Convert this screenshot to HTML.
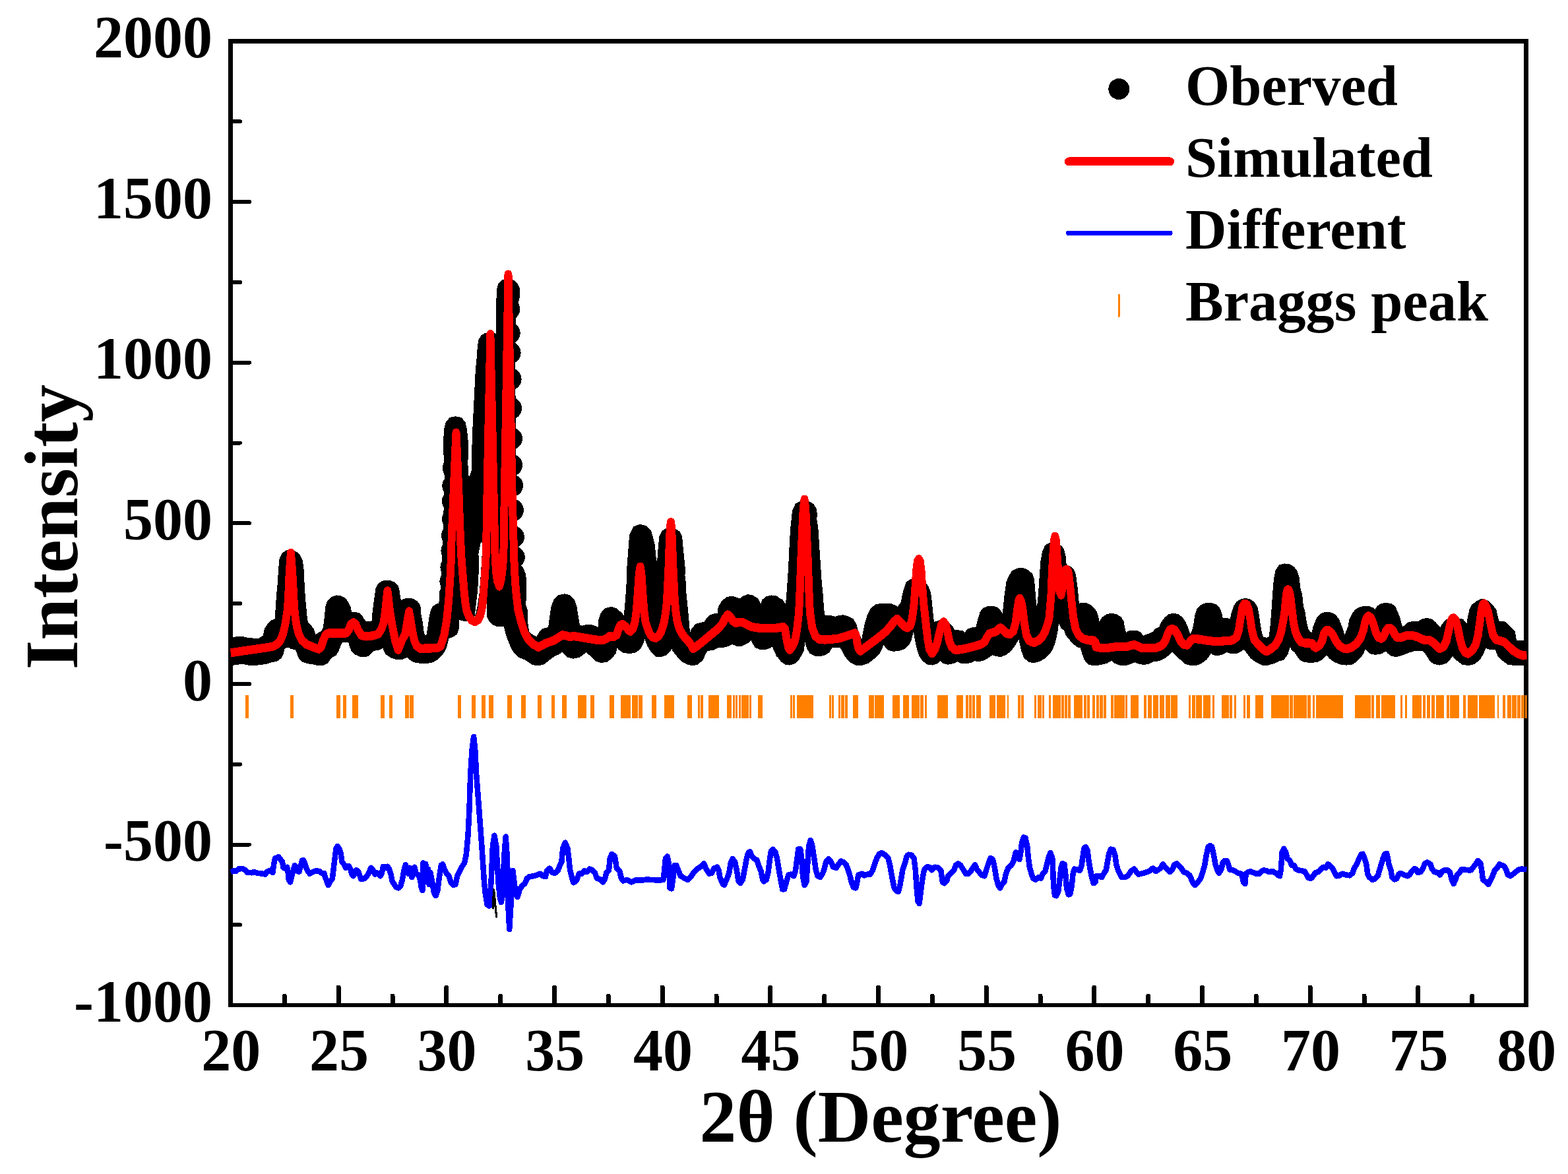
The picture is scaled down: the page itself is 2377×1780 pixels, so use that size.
<!DOCTYPE html>
<html lang="en"><head><meta charset="utf-8"><title>XRD Rietveld refinement</title>
<style>html,body{margin:0;padding:0;background:#fff;}body{width:2377px;height:1780px;overflow:hidden;}svg{display:block;}</style>
</head><body>
<svg width="2377" height="1780" viewBox="0 0 2377 1780" shape-rendering="crispEdges">
<rect width="2377" height="1780" fill="#fff"/>
<path d="M349.5 59V1527M2313.5 59V1527M346 62.5H2317" fill="none" stroke="#000" stroke-width="7"/>
<path d="M346 1524H2317" fill="none" stroke="#000" stroke-width="6"/>
<path d="M431.3 1524v-13.8M513.2 1524v-27.0M595.0 1524v-13.8M676.8 1524v-27.0M758.7 1524v-13.8M840.5 1524v-27.0M922.3 1524v-13.8M1004.2 1524v-27.0M1086.0 1524v-13.8M1167.8 1524v-27.0M1249.7 1524v-13.8M1331.5 1524v-27.0M1413.3 1524v-13.8M1495.2 1524v-27.0M1577.0 1524v-13.8M1658.8 1524v-27.0M1740.7 1524v-13.8M1822.5 1524v-27.0M1904.3 1524v-13.8M1986.2 1524v-27.0M2068.0 1524v-13.8M2149.8 1524v-27.0M2231.7 1524v-13.8" fill="none" stroke="#000" stroke-width="7" stroke-linecap="round"/>
<path d="M349.5 1402.3h14.5M349.5 1280.5h28.5M349.5 1158.7h14.5M349.5 1036.9h28.5M349.5 915.1h14.5M349.5 793.3h28.5M349.5 671.5h14.5M349.5 549.7h28.5M349.5 427.9h14.5M349.5 306.1h28.5M349.5 184.3h14.5" fill="none" stroke="#000" stroke-width="6" stroke-linecap="round"/>
<clipPath id="clip"><rect x="349.2" y="62.5" width="1965.4" height="1461.6"/></clipPath>
<g clip-path="url(#clip)">
<path d="M349.6 968.6L358.1 966.7L367.2 966.4L376.2 968.6L392.5 969.6L399.8 964.6L402.5 953.7L407.0 946.4L412.5 941.4L417.9 940.1L418.8 928.3L420.6 901.2L422.4 883.0L423.7 861.3L425.1 846.8L428.8 839.6L434.2 835.9L440.9 834.1L448.7 837.8L454.1 843.2L457.4 850.4L459.2 864.9L459.6 875.8L460.5 892.1L461.7 910.2L463.2 924.7L464.6 941.0L466.8 945.5L470.4 949.2L474.1 953.7L477.7 963.7L483.1 960.9L488.6 957.3L491.3 951.9L493.1 937.4L494.9 919.3L497.6 912.0L503.0 906.6L510.3 903.9L517.5 905.1L523.0 908.4L527.5 914.7L530.2 921.1L531.7 929.2L539.3 929.2L540.0 929.8L544.1 930.8L548.2 934.9L551.3 940.1L554.4 943.7L560.5 943.4L565.2 942.6L565.7 931.9L566.9 921.6L568.2 911.3L569.8 901.1L570.8 892.9L573.9 886.7L579.0 882.6L584.1 881.0L591.3 881.4L597.5 884.1L601.6 887.7L603.7 892.9L604.9 901.1L606.2 909.3L607.2 912.9L610.8 910.3L614.9 908.8L620.1 908.0L626.2 909.3L631.4 912.4L634.5 916.5L636.5 921.6L637.0 931.9L639.1 942.1L641.1 957.5L642.7 963.7L644.7 965.7L647.8 963.7L648.8 957.5L650.4 947.3L652.4 933.9L654.5 925.7L657.0 920.6L661.1 917.5L665.8 916.0L667.0 912.0L669.0 901.2L670.0 883.0L671.0 864.9L671.5 846.8L672.0 835.9L672.5 821.4L673.0 810.6L673.5 792.5L674.0 774.3L674.5 756.2L675.0 738.1L675.0 729.0L675.0 720.0L674.5 695.0L673.4 680.0L674.3 651.7L677.0 640.9L682.4 634.5L690.6 632.7L698.7 634.5L704.2 640.9L706.5 651.7L708.3 669.8L708.7 680.0L707.9 700.0L708.3 722.0L712.5 724.0L716.1 714.3L716.1 700.0L716.8 680.0L717.8 651.7L718.7 633.6L719.6 615.5L720.5 597.4L721.4 579.3L722.3 561.2L724.1 543.0L725.4 525.0L726.8 515.9L730.4 509.5L735.9 506.4L743.4 505.0L750.4 506.8L753.1 510.4L753.6 488.7L753.1 470.6L754.0 452.5L754.3 439.8L756.7 430.7L762.1 425.3L770.3 424.0L778.4 426.2L783.9 431.6L787.0 439.8L786.0 452.0L781.0 470.0L779.5 520.0L780.0 600.0L780.5 680.0L781.5 750.0L782.5 800.0L783.5 840.0L785.0 857.7L795.9 870.4L796.7 906.6L795.4 915.7L798.1 924.7L799.0 946.4L800.8 959.1L807.2 963.7L813.5 967.3L818.9 959.1L823.5 954.6L832.5 951.9L834.3 937.4L837.1 919.3L840.7 910.2L847.0 903.9L856.1 901.7L863.3 903.9L869.7 910.2L872.8 919.3L875.1 933.8L877.8 949.2L882.4 950.1L888.7 948.6L895.9 948.3L903.2 951.0L907.7 953.7L909.0 939.2L912.2 930.1L917.7 923.8L926.7 921.4L934.0 923.8L941.2 930.1L947.0 936.5L949.4 910.2L951.2 883.0L952.1 855.9L954.3 828.7L955.7 810.6L961.2 799.7L970.2 796.1L979.3 798.8L985.6 805.1L988.3 814.2L991.1 825.1L992.9 843.2L994.7 854.1L995.9 863.1L997.4 854.1L998.8 835.9L1000.7 814.2L1004.6 806.1L1010.1 802.4L1017.0 800.6L1023.7 803.3L1029.1 807.0L1032.7 814.2L1034.0 828.7L1035.8 846.8L1037.6 864.9L1036.9 872.2L1038.2 883.0L1039.1 901.2L1040.9 919.3L1042.7 937.4L1044.1 953.7L1045.9 962.8L1049.9 953.7L1055.4 947.4L1062.6 945.2L1068.0 944.6L1071.7 939.2L1077.1 933.8L1084.3 931.1L1088.9 931.1L1090.1 921.1L1095.2 912.0L1102.5 906.6L1109.7 905.1L1117.0 907.5L1121.5 909.3L1126.0 905.7L1133.3 902.6L1140.5 903.9L1147.8 908.4L1151.4 914.7L1154.1 918.4L1156.8 910.2L1162.2 905.7L1169.5 903.9L1176.7 904.8L1180.0 907.5L1185.4 910.2L1190.0 917.5L1191.8 924.7L1193.0 910.2L1194.5 892.1L1196.3 864.9L1198.1 828.7L1199.6 801.5L1202.6 774.3L1207.2 764.4L1212.6 761.7L1219.5 760.8L1227.1 762.0L1232.5 765.3L1236.5 772.5L1237.6 781.6L1236.5 785.2L1238.9 801.5L1240.7 828.7L1242.5 855.9L1244.3 883.0L1246.1 901.2L1247.4 919.3L1248.8 933.8L1252.5 934.1L1259.7 934.7L1266.1 936.5L1270.6 934.7L1277.8 933.8L1285.1 935.6L1292.3 939.2L1296.8 946.4L1299.6 957.3L1304.1 968.2L1306.8 975.4L1308.6 964.6L1312.2 946.4L1315.9 933.8L1321.3 922.9L1328.6 917.5L1339.4 916.0L1350.3 916.6L1357.5 919.3L1361.2 922.0L1363.0 919.3L1367.5 912.9L1369.3 901.2L1372.0 892.1L1374.7 883.9L1379.3 880.3L1383.8 879.1L1392.9 877.6L1401.9 883.9L1406.4 890.3L1409.7 899.3L1411.0 910.2L1412.8 928.3L1414.6 944.6L1419.1 943.7L1423.7 941.9L1430.4 941.0L1438.2 945.5L1442.7 950.1L1446.3 956.4L1453.6 957.0L1459.0 957.7L1462.6 960.9L1468.0 954.6L1473.5 952.8L1480.7 951.9L1484.3 937.4L1487.1 928.3L1491.6 922.9L1498.8 920.2L1506.1 920.2L1512.4 922.9L1517.0 928.3L1520.6 934.7L1522.4 919.3L1524.2 901.2L1526.9 883.0L1530.5 874.0L1535.1 866.7L1542.3 863.1L1549.6 862.2L1556.8 864.9L1560.0 867.6L1563.6 870.4L1566.3 877.6L1567.6 892.1L1569.1 910.2L1570.9 924.7L1572.3 930.1L1573.6 919.3L1575.4 901.2L1577.2 874.0L1579.0 850.4L1581.7 835.9L1585.4 827.8L1590.8 824.7L1599.3 823.3L1608.0 828.7L1611.6 833.2L1614.0 843.2L1615.3 857.1L1622.5 860.4L1627.0 864.9L1629.7 872.2L1631.0 883.0L1632.5 893.9L1633.9 910.2L1635.2 916.6L1639.7 915.3L1647.0 915.7L1652.4 918.4L1657.8 922.9L1661.4 928.3L1664.2 937.4L1666.0 947.4L1668.7 941.9L1672.3 936.5L1677.8 932.9L1685.0 931.1L1692.2 932.9L1698.6 936.5L1702.2 942.8L1704.0 953.7L1706.4 961.8L1710.4 958.2L1715.8 957.0L1723.0 957.3L1728.5 960.0L1733.0 966.0L1736.6 963.7L1743.0 961.8L1748.4 959.1L1752.0 954.6L1758.4 951.9L1761.1 944.6L1766.5 937.4L1772.0 932.9L1779.2 931.1L1786.4 932.9L1791.9 937.4L1795.5 942.8L1799.1 950.1L1801.8 959.1L1804.6 964.6L1808.2 957.3L1810.9 946.4L1812.7 933.8L1815.4 924.7L1820.9 918.4L1828.1 915.7L1835.4 915.3L1842.6 917.5L1848.0 922.9L1850.8 930.1L1852.6 939.2L1858.9 938.3L1866.2 940.1L1868.0 930.1L1871.6 919.3L1875.2 913.8L1880.7 910.2L1887.9 908.4L1895.1 910.2L1900.6 913.8L1905.1 921.1L1906.9 930.1L1908.7 942.8L1911.4 959.1L1914.2 967.3L1920.5 968.2L1925.0 966.4L1926.8 951.9L1928.7 928.3L1930.5 901.2L1932.3 879.4L1935.0 864.9L1939.5 858.6L1940.0 857.7L1947.2 855.9L1954.5 856.8L1960.8 860.4L1965.4 866.7L1968.1 875.8L1969.9 892.1L1972.6 901.2L1974.4 919.3L1977.1 928.3L1978.9 941.0L1981.7 953.7L1985.3 959.1L1989.8 960.9L1991.6 951.9L1994.3 944.6L1998.0 936.5L2003.4 931.1L2010.7 929.2L2017.9 930.1L2023.3 932.9L2027.9 938.3L2031.5 946.4L2034.2 953.7L2036.9 962.8L2038.7 965.5L2041.4 959.1L2045.1 950.1L2046.9 939.2L2050.5 932.0L2055.0 925.6L2061.4 922.0L2068.6 920.2L2075.9 920.7L2081.3 922.9L2084.9 926.2L2088.6 920.2L2094.0 916.6L2101.2 915.3L2108.5 916.6L2113.9 920.2L2117.5 928.3L2121.2 937.4L2123.9 948.3L2125.7 952.2L2130.2 949.2L2135.7 944.6L2142.9 943.2L2150.1 943.7L2155.6 940.1L2162.8 938.3L2170.1 940.1L2175.5 944.6L2180.9 950.1L2183.7 954.6L2186.4 948.3L2190.9 942.8L2197.2 937.4L2203.9 936.5L2210.8 938.8L2217.2 940.1L2221.7 945.5L2224.4 949.2L2226.2 937.4L2228.9 924.7L2232.6 917.5L2238.9 912.9L2246.2 909.3L2255.2 912.0L2261.6 918.4L2267.0 924.7L2268.8 933.8L2271.5 943.2L2278.8 943.2L2283.3 945.5L2289.6 951.9L2295.1 957.3L2297.8 972.7L2316.8 972.7L2316.8 1007.5L2295.1 1007.5L2286.0 1006.2L2278.8 1000.8L2271.5 993.6L2267.9 983.6L2261.6 983.6L2255.2 982.7L2251.6 980.0L2248.0 989.9L2242.5 999.0L2235.3 1005.3L2226.2 1007.7L2217.2 1006.2L2209.9 1000.8L2204.5 995.4L2201.8 992.6L2197.2 999.0L2191.8 1004.4L2182.8 1007.1L2173.7 1005.3L2168.3 1000.8L2162.8 991.7L2157.4 985.9L2144.7 985.4L2135.7 988.1L2126.6 991.7L2117.5 994.5L2110.3 993.6L2104.9 989.9L2101.2 985.4L2094.0 989.9L2084.9 991.4L2077.7 989.9L2072.2 984.5L2069.5 980.9L2065.0 991.7L2057.8 999.9L2050.5 1005.9L2041.4 1007.1L2032.4 1006.2L2023.3 1002.6L2016.1 997.2L2011.6 991.7L2008.8 993.6L2003.4 999.0L1996.2 1002.6L1987.1 1003.5L1978.0 1002.6L1971.7 999.9L1967.2 993.6L1963.6 988.1L1959.0 984.5L1956.3 977.2L1953.6 982.7L1950.9 991.7L1945.4 999.0L1940.0 1000.8L1939.5 1000.4L1931.4 1004.4L1922.3 1007.1L1913.3 1007.1L1904.2 1002.6L1897.0 997.2L1891.5 989.9L1886.1 982.7L1880.7 986.3L1873.4 989.9L1866.2 989.9L1859.8 987.2L1853.5 990.8L1846.2 992.6L1839.0 991.7L1835.4 988.1L1833.6 991.7L1828.1 999.0L1820.9 1004.4L1813.6 1007.7L1806.4 1008.0L1797.3 1005.3L1790.1 999.0L1782.8 991.7L1777.4 986.3L1772.0 991.7L1764.7 997.2L1757.5 1000.8L1748.4 1001.7L1741.2 1005.3L1733.9 1006.6L1726.7 1005.3L1720.3 1002.6L1714.0 1005.3L1706.7 1007.7L1697.7 1007.1L1690.4 1004.4L1685.0 999.9L1677.8 1004.4L1668.7 1006.6L1659.6 1008.0L1650.6 1006.2L1645.1 999.9L1641.5 989.9L1638.8 980.9L1634.3 980.0L1627.0 974.5L1621.6 968.2L1617.1 962.8L1614.3 954.6L1609.8 951.9L1606.7 944.6L1605.3 933.8L1604.4 937.4L1601.7 959.1L1598.0 975.4L1593.5 985.9L1589.0 991.7L1583.6 996.8L1576.3 1001.2L1567.2 1003.7L1560.0 1002.6L1558.6 1001.2L1553.2 996.3L1549.6 986.3L1546.8 973.6L1545.0 964.6L1542.3 970.0L1536.9 979.1L1531.4 986.3L1524.2 991.7L1517.0 994.5L1509.7 993.6L1504.3 991.7L1498.8 995.4L1491.6 999.9L1484.3 1001.7L1477.1 1000.8L1471.7 1003.5L1464.4 1004.8L1457.2 1004.4L1451.7 1001.7L1446.3 1004.4L1437.2 1006.2L1430.0 1004.4L1425.5 999.9L1420.9 1004.4L1413.7 1007.1L1406.4 1006.2L1399.2 1000.8L1394.7 993.6L1391.1 982.7L1388.3 970.0L1385.6 953.7L1382.9 959.1L1380.2 970.0L1376.6 977.2L1370.2 982.7L1363.0 985.4L1353.9 986.3L1346.7 984.5L1342.1 979.1L1339.4 973.6L1336.7 980.9L1332.2 989.9L1324.9 997.2L1315.9 1004.4L1306.8 1007.5L1297.8 1007.1L1288.7 1002.6L1281.4 993.6L1277.8 986.3L1274.2 980.0L1267.0 980.9L1260.6 980.9L1256.1 988.1L1250.7 991.7L1243.4 993.6L1236.2 993.6L1228.9 989.9L1224.4 982.7L1222.0 973.6L1220.2 966.4L1218.9 973.6L1217.1 986.3L1213.5 993.6L1209.0 1000.8L1203.6 1005.3L1196.3 1007.1L1190.9 1006.2L1185.4 1002.6L1180.0 995.4L1178.6 994.5L1174.9 986.3L1171.3 978.2L1167.7 980.9L1160.4 983.6L1153.2 983.6L1145.9 980.9L1141.4 973.6L1138.7 968.2L1133.3 973.6L1124.2 978.2L1117.0 978.2L1109.7 975.4L1104.3 978.2L1095.2 980.9L1088.0 980.9L1080.7 984.5L1071.7 985.4L1068.0 991.7L1064.4 999.9L1057.2 1006.2L1049.9 1008.0L1042.7 1006.2L1035.4 1002.6L1028.2 995.4L1020.9 986.3L1018.2 979.1L1015.5 986.3L1010.1 991.7L1002.8 994.5L995.6 994.5L988.3 988.1L982.9 979.1L979.3 970.0L976.6 960.9L974.7 973.6L970.2 982.7L963.0 988.1L953.9 989.6L944.9 988.1L939.4 984.5L934.9 979.1L932.2 989.9L926.7 997.2L919.5 1002.6L910.4 1003.5L903.2 1000.8L895.9 993.6L888.7 987.2L884.2 990.8L877.8 995.4L868.8 997.2L861.5 995.4L857.0 991.7L852.5 986.3L847.0 990.8L839.8 993.6L830.7 1000.8L823.5 1006.2L814.4 1008.0L807.2 1006.2L801.7 1002.6L796.3 999.0L787.2 995.4L780.0 988.1L776.0 982.0L772.0 972.0L767.7 960.0L765.0 948.0L753.0 948.3L747.2 945.8L742.9 941.4L740.7 937.0L739.5 934.0L739.3 905.0L737.5 904.0L730.0 920.0L720.0 932.0L713.0 938.0L707.0 941.0L698.0 939.0L695.1 937.4L694.2 953.7L691.5 960.9L686.0 964.6L679.1 966.8L676.6 978.1L673.5 986.3L669.4 992.4L663.2 998.6L656.0 1002.7L646.8 1004.8L637.5 1004.3L627.3 1002.7L621.1 998.6L617.5 995.0L610.8 998.1L601.6 998.6L593.4 996.0L586.2 991.4L583.1 986.3L581.1 980.6L573.9 984.2L566.7 985.3L562.6 988.3L557.5 993.5L551.3 995.0L545.1 994.0L540.0 990.9L539.3 991.7L533.8 986.3L531.1 979.1L529.3 972.7L518.4 972.7L515.7 977.2L512.1 986.3L508.5 992.6L503.0 995.4L499.4 999.0L495.8 1004.4L490.4 1007.1L483.1 1008.0L475.9 1006.2L466.8 1004.8L459.6 1002.6L454.1 997.2L451.4 989.9L448.7 983.6L441.4 982.7L438.7 980.3L434.2 980.9L429.7 982.7L428.8 989.9L425.1 997.2L419.7 1001.2L412.5 1002.6L403.4 1005.3L394.3 1006.6L383.5 1008.0L376.2 1007.1L367.2 1005.3L349.6 1007.7Z" fill="#000" stroke="#000" stroke-width="3" stroke-linejoin="round"/>
<path d="M688.6 684.4h0M687.9 709.6h0M687.3 736.6h0M686.9 759.8h0M686.9 786.9h0M685.9 812.0h0M685.4 835.2h0M684.4 860.3h0M683.4 881.5h0M682.8 900.9h0M771.4 441.6h0M771.4 468.8h0M771.7 505.0h0M772.6 534.9h0M773.6 574.7h0M774.1 619.1h0M775.0 665.0h0M775.1 705.3h0M776.1 736.2h0M777.0 773.5h0M777.9 814.1h0M778.8 845.0h0M778.9 870.4h0" fill="none" stroke="#000" stroke-width="34.0" stroke-linecap="round"/>
<path d="M728.8 822.1L731.5 823.0L730.5 843.0L729.5 860.0L728.2 880.0L726.5 900.0L724.0 918.0L721.0 931.0L719.8 933.5L721.3 920.0L723.6 900.0L725.2 880.0L725.9 860.0L725.7 843.0L725.1 841.2Z" fill="#fff"/>
<path transform="scale(1 1.1)" d="M349.60 899.77L367.17 897.46L385.29 894.99L403.41 892.69L414.28 890.88L420.62 887.58L425.14 882.64L429.13 873.58L432.39 860.41L434.20 849.70L436.01 839.00L437.28 819.24L438.91 786.30L440.91 761.92L443.08 786.30L445.07 819.24L446.16 839.00L447.61 849.70L449.24 860.41L452.68 873.58L457.75 882.64L465.00 888.41L474.06 891.70L483.12 894.66L486.74 891.70L490.36 881.82L493.99 874.41L497.61 872.76L510.29 872.76L524.78 872.76L528.41 868.64L532.03 860.41L535.65 857.94L539.28 860.41L542.90 868.64L548.33 876.05L555.58 877.21L566.45 876.05L573.70 873.63L578.50 866.37L581.70 857.46L584.29 840.91L586.00 825.46L587.50 814.46L589.00 825.46L590.80 840.91L593.70 857.46L596.50 870.92L599.49 884.55L603.61 895.73L607.50 886.36L611.00 879.55L614.09 874.72L616.50 861.82L618.50 850.91L620.11 842.72L621.70 850.91L623.70 861.82L626.11 874.72L628.50 883.63L631.50 890.00L636.99 893.82L647.97 893.68L662.46 893.35L668.00 890.91L673.50 874.55L677.30 854.55L680.20 827.27L683.20 786.36L685.00 731.82L687.50 681.82L689.50 636.36L691.50 596.36L693.50 636.36L695.50 681.82L697.50 731.82L699.20 765.45L700.60 781.82L702.00 797.27L703.50 813.64L705.20 830.00L707.50 841.82L711.00 850.00L715.00 855.00L720.00 857.00L724.50 854.55L728.00 848.18L730.30 840.00L731.80 830.00L733.30 813.64L734.70 796.36L735.80 780.00L736.80 763.64L737.80 721.82L739.00 654.55L740.60 581.82L742.30 509.09L743.40 460.45L744.50 509.09L746.20 581.82L747.90 654.55L749.20 709.09L750.20 754.55L750.80 770.91L752.20 789.09L754.00 800.91L757.00 808.18L760.00 797.27L761.80 783.64L763.20 768.18L764.30 727.27L764.50 699.09L766.00 618.18L767.70 527.27L769.40 436.36L770.50 378.18L771.60 436.36L773.10 509.09L774.50 581.82L775.60 636.36L776.20 665.45L777.10 699.09L778.30 736.36L779.00 764.55L780.30 790.91L782.00 813.64L785.40 840.64L790.00 857.09L794.50 870.27L800.00 880.00L807.00 887.27L816.23 892.03L827.10 886.76L839.78 882.64L847.03 878.52L852.46 875.23L857.90 876.05L863.33 877.70L870.58 876.88L881.45 878.52L892.32 880.17L903.19 881.82L914.06 882.64L919.49 880.17L924.02 876.88L930.36 877.70L934.89 875.23L937.61 867.00L940.33 862.06L943.95 860.41L948.48 863.70L953.01 868.64L955.72 870.29L959.35 867.00L962.61 857.11L964.60 843.94L966.05 827.47L967.32 811.00L968.77 791.24L970.58 781.03L972.39 791.24L973.84 811.00L975.11 827.47L976.56 843.94L978.55 857.11L981.99 867.00L985.62 874.41L990.14 878.52L993.77 879.35L998.30 876.88L1002.46 870.29L1006.45 858.76L1009.17 843.94L1010.98 829.12L1012.43 802.77L1013.70 778.06L1014.96 745.13L1016.05 725.36L1016.96 719.60L1017.86 725.36L1018.95 745.13L1020.22 778.06L1021.49 802.77L1022.93 829.12L1024.57 843.94L1026.74 857.11L1030.00 867.00L1033.62 872.76L1037.25 877.70L1042.68 882.64L1047.21 888.41L1050.83 894.17L1057.17 890.05L1066.23 883.47L1077.10 875.23L1087.97 867.00L1095.22 859.58L1099.75 851.35L1103.37 847.23L1107.90 851.35L1111.52 856.29L1115.14 858.76L1120.58 857.44L1126.01 857.94L1131.45 860.41L1138.70 863.70L1147.75 865.35L1160.43 866.17L1169.49 866.17L1180.00 865.35L1187.25 864.03L1189.96 867.00L1192.68 881.82L1195.40 893.35L1197.21 895.82L1200.83 891.70L1205.00 883.47L1208.08 868.64L1211.16 843.94L1212.79 811.00L1214.42 769.83L1216.23 728.66L1217.86 700.66L1219.49 688.31L1221.12 700.66L1222.75 728.66L1224.57 769.83L1226.20 811.00L1227.83 843.94L1231.27 865.35L1236.16 876.88L1241.59 880.99L1250.65 881.82L1261.52 880.99L1270.58 880.17L1279.64 877.70L1288.70 874.90L1295.94 872.76L1297.75 876.05L1299.20 885.11L1301.38 893.35L1304.09 897.46L1310.43 893.35L1321.30 885.94L1332.17 878.52L1343.04 870.29L1350.29 862.88L1355.72 856.29L1360.25 853.00L1364.78 857.11L1370.22 862.88L1375.65 865.35L1380.18 862.06L1382.90 852.17L1385.62 832.41L1387.43 811.00L1389.24 786.30L1391.05 773.12L1392.86 770.65L1394.67 773.12L1396.49 786.30L1398.30 811.00L1400.65 835.70L1403.73 860.41L1406.45 881.82L1409.17 894.99L1412.79 900.76L1417.32 894.99L1420.94 885.11L1424.57 870.29L1427.28 860.41L1430.36 857.11L1433.26 860.41L1436.34 870.29L1439.06 883.47L1442.68 891.70L1448.12 895.82L1455.36 895.32L1466.23 893.35L1477.10 890.88L1486.16 888.41L1492.50 885.11L1496.12 878.52L1499.75 873.58L1504.28 871.94L1509.71 870.62L1513.33 867.00L1516.59 865.35L1520.58 867.82L1525.11 872.76L1530.54 874.41L1535.98 870.29L1539.60 858.76L1542.32 839.00L1544.13 828.29L1545.94 824.67L1547.93 828.29L1550.29 839.00L1552.83 858.76L1555.91 875.23L1560.43 883.47L1567.68 885.94L1574.49 882.64L1579.93 877.70L1584.46 870.29L1588.08 860.41L1590.43 852.17L1592.07 835.70L1593.51 819.24L1594.24 804.41L1594.96 786.30L1596.05 769.83L1597.14 753.36L1598.22 743.48L1599.31 739.36L1600.58 743.48L1601.85 756.65L1603.12 773.12L1604.38 791.24L1605.29 804.41L1606.56 815.12L1608.55 820.06L1610.72 811.00L1612.54 794.53L1614.35 786.30L1616.70 784.65L1619.42 787.94L1621.59 802.77L1623.41 819.24L1625.22 835.70L1627.39 852.17L1630.65 867.00L1635.18 875.23L1641.52 880.17L1650.58 882.64L1657.83 882.64L1660.54 885.11L1661.45 891.70L1668.70 893.02L1679.57 893.02L1690.43 891.70L1701.30 891.70L1710.36 890.88L1715.80 889.23L1719.42 888.74L1723.04 890.05L1730.29 893.02L1741.16 893.35L1752.03 893.02L1761.09 890.05L1766.52 883.47L1770.14 873.58L1773.77 867.82L1777.03 866.67L1781.01 868.64L1785.54 875.23L1790.07 884.29L1794.60 888.41L1800.04 889.23L1804.57 883.47L1809.09 880.17L1817.25 880.99L1828.12 882.64L1842.61 884.29L1857.10 883.47L1867.97 882.64L1874.31 878.52L1877.93 868.64L1880.65 852.17L1883.37 837.35L1886.09 832.41L1887.90 832.08L1890.07 833.23L1892.97 840.65L1895.14 852.17L1897.86 868.64L1901.49 881.82L1907.83 888.41L1915.07 894.99L1919.60 897.96L1925.94 894.99L1933.19 889.23L1938.62 880.99L1942.25 870.29L1945.33 855.47L1947.14 845.59L1948.59 832.41L1950.04 819.24L1951.30 813.80L1952.57 812.65L1953.41 812.98L1955.04 816.77L1956.49 824.18L1957.93 835.70L1959.20 845.59L1961.01 858.76L1963.73 870.29L1967.36 878.52L1971.88 884.62L1978.04 886.43L1985.29 886.43L1988.91 886.76L1991.63 890.88L1994.35 892.85L1999.78 890.05L2004.31 883.47L2007.03 873.58L2009.75 869.47L2012.46 868.31L2016.09 870.29L2020.62 875.23L2025.14 883.47L2030.58 890.05L2036.01 893.35L2041.45 894.50L2048.70 892.52L2055.94 887.58L2062.28 880.17L2066.81 868.64L2069.53 857.11L2072.25 850.53L2074.96 849.04L2078.59 852.17L2082.21 860.41L2085.83 871.94L2089.46 878.52L2093.99 880.17L2097.61 876.88L2101.23 869.47L2103.95 866.17L2107.57 865.84L2111.20 868.64L2114.82 875.23L2118.44 878.85L2124.78 878.52L2132.03 876.05L2139.28 875.56L2148.33 877.70L2157.39 881.82L2166.45 882.15L2171.88 885.11L2177.32 890.05L2182.75 894.17L2188.19 891.70L2192.72 883.47L2196.34 868.64L2199.06 857.11L2201.78 852.17L2203.95 851.68L2206.67 854.64L2209.93 865.35L2213.55 881.82L2217.17 893.35L2221.70 899.93L2225.33 901.09L2231.67 896.64L2237.10 888.41L2240.72 875.23L2243.44 857.11L2246.16 839.00L2247.97 833.23L2249.78 831.75L2252.50 834.88L2256.12 843.94L2259.75 860.41L2263.37 875.23L2267.90 881.82L2275.14 883.47L2280.58 885.11L2287.83 891.70L2295.07 897.46L2302.32 901.58L2309.57 903.56L2314.64 902.90" fill="none" stroke="#f00" stroke-width="12" stroke-linejoin="round" stroke-linecap="butt"/>
<path d="M349.6 1322.5L354.5 1320.2L358.1 1320.7L361.7 1317.5L367.2 1317.1L371.7 1319.3L374.4 1322.5L381.7 1323.3L385.3 1322.0L390.7 1323.8L398.0 1324.7L402.5 1325.6L404.3 1322.0L407.9 1320.2L411.6 1319.3L413.4 1322.9L415.2 1310.2L417.0 1301.2L422.4 1299.3L425.1 1303.0L427.9 1306.6L429.7 1315.7L431.5 1316.6L435.1 1314.7L436.9 1324.7L437.8 1333.8L440.0 1337.4L441.8 1330.1L444.2 1321.1L446.9 1312.0L448.7 1314.7L451.4 1321.1L453.2 1322.0L455.9 1313.8L457.8 1304.8L459.6 1303.9L462.3 1309.3L464.1 1315.7L466.8 1321.1L469.5 1324.7L474.1 1322.0L479.5 1320.2L484.9 1321.1L487.6 1323.8L491.3 1323.8L493.1 1330.1L495.8 1337.4L497.6 1341.9L500.3 1336.5L503.9 1332.0L505.8 1315.7L507.6 1301.2L509.4 1286.7L511.7 1283.0L514.8 1287.6L516.6 1293.9L518.4 1306.6L521.2 1310.2L523.9 1315.7L528.4 1312.9L531.1 1317.5L533.8 1326.5L535.7 1328.3L538.4 1321.1L540.2 1319.3L542.9 1321.1L545.6 1328.3L547.4 1332.9L552.9 1332.0L557.4 1326.5L560.1 1321.1L562.5 1315.7L565.5 1319.3L568.3 1325.6L571.0 1322.9L573.7 1325.6L576.4 1328.3L579.1 1322.9L580.9 1313.8L583.7 1315.7L587.3 1313.8L590.0 1317.5L592.7 1326.5L594.5 1335.6L597.2 1340.1L600.0 1344.6L603.6 1346.4L607.2 1343.7L609.9 1333.8L612.6 1319.3L614.8 1311.1L617.2 1317.5L619.0 1324.7L620.8 1315.7L622.6 1319.3L624.4 1330.1L626.2 1319.3L628.4 1314.7L630.8 1324.7L634.4 1326.5L637.1 1333.8L638.9 1346.4L640.4 1350.1L641.3 1308.4L643.4 1337.4L645.3 1310.2L647.1 1337.4L648.9 1317.5L650.7 1341.0L652.5 1322.9L655.2 1337.4L657.9 1353.7L660.7 1358.2L663.4 1350.1L666.1 1328.3L668.8 1312.0L671.2 1310.2L674.2 1319.3L677.0 1324.7L680.6 1328.3L683.3 1337.4L686.9 1341.9L690.5 1341.0L693.3 1328.3L696.9 1321.1L700.5 1313.8L704.1 1308.4L706.8 1295.7L709.6 1264.9L711.4 1228.7L713.2 1174.3L715.4 1138.1L718.1 1116.9L720.4 1138.1L722.2 1174.3L725.0 1210.6L727.7 1246.8L730.4 1283.0L732.2 1310.2L734.0 1337.4L735.8 1355.5L738.6 1371.8L741.8 1373.6L744.5 1337.4L746.9 1283.0L749.4 1266.7L752.3 1283.0L755.4 1337.4L758.1 1362.8L759.9 1368.2L762.1 1355.5L764.1 1301.2L766.6 1268.6L769.0 1301.2L770.4 1373.6L772.2 1408.9L774.4 1373.6L775.9 1337.4L777.5 1320.2L779.5 1337.4L782.0 1355.5L784.4 1360.0L788.0 1348.3L791.6 1342.8L795.3 1340.1L798.9 1332.0L802.5 1329.2L808.8 1328.3L814.3 1326.5L818.8 1324.7L823.3 1328.3L827.0 1329.2L828.8 1321.1L833.3 1316.6L836.9 1322.9L841.4 1323.8L846.0 1319.3L848.7 1312.0L851.4 1306.6L853.2 1286.7L856.8 1277.6L860.5 1286.7L862.3 1301.2L864.1 1319.3L866.8 1330.1L869.5 1338.3L874.1 1334.7L877.7 1324.7L882.2 1324.7L885.8 1320.2L889.5 1322.0L894.0 1317.5L897.6 1319.3L902.1 1323.8L904.9 1332.0L909.4 1332.9L913.9 1337.4L916.6 1333.8L919.3 1322.9L923.0 1319.3L924.8 1301.2L927.5 1294.8L932.0 1298.4L934.7 1315.7L939.3 1321.1L942.0 1332.0L944.7 1335.6L950.1 1333.8L957.4 1337.4L962.8 1334.7L973.7 1334.7L980.0 1333.4L990.0 1334.1L997.2 1334.7L1005.4 1334.1L1007.2 1319.3L1009.0 1301.2L1011.7 1298.4L1013.9 1310.2L1015.4 1346.4L1018.1 1347.4L1020.8 1328.3L1022.6 1312.0L1025.3 1312.0L1028.9 1321.1L1031.7 1328.3L1037.1 1331.1L1042.5 1333.8L1048.0 1328.3L1051.6 1322.9L1057.0 1317.5L1062.5 1313.8L1067.0 1309.3L1070.6 1317.5L1075.1 1324.7L1078.8 1323.8L1082.4 1316.6L1086.9 1314.7L1089.6 1319.3L1091.4 1330.1L1095.1 1339.2L1097.8 1341.9L1101.4 1333.8L1105.0 1324.7L1107.8 1308.4L1110.5 1302.1L1114.1 1306.6L1116.8 1319.3L1119.5 1335.6L1122.2 1339.2L1125.9 1333.8L1128.6 1319.3L1131.3 1304.8L1134.0 1293.9L1136.7 1291.2L1140.0 1298.4L1143.6 1302.1L1147.2 1303.9L1150.0 1312.0L1153.6 1321.1L1156.3 1333.8L1158.1 1336.5L1161.7 1333.8L1164.5 1322.9L1167.2 1301.2L1169.0 1290.3L1171.7 1287.6L1175.3 1292.1L1178.0 1301.2L1180.8 1319.3L1183.5 1333.8L1186.2 1348.3L1188.9 1348.3L1192.5 1335.6L1195.3 1326.5L1198.9 1325.6L1203.4 1328.3L1206.1 1319.3L1208.5 1301.2L1210.3 1287.6L1213.4 1287.6L1215.2 1301.2L1217.0 1328.3L1219.7 1341.9L1222.4 1337.4L1224.2 1310.2L1226.1 1283.0L1228.8 1274.0L1231.5 1283.0L1234.2 1301.2L1236.9 1319.3L1239.6 1328.3L1243.3 1330.1L1246.9 1324.7L1249.6 1317.5L1252.3 1306.6L1255.9 1302.1L1259.6 1306.6L1263.2 1314.7L1267.7 1315.7L1271.3 1310.2L1275.0 1305.7L1279.5 1307.5L1283.1 1312.0L1285.8 1319.3L1288.6 1328.3L1291.3 1339.2L1294.0 1345.5L1297.2 1346.4L1299.4 1337.4L1301.2 1326.5L1306.7 1324.7L1310.3 1327.4L1314.8 1325.6L1319.3 1325.6L1323.0 1319.3L1326.6 1308.4L1329.3 1301.2L1332.9 1294.8L1336.6 1293.0L1341.1 1295.7L1346.5 1301.2L1349.2 1312.0L1352.0 1328.3L1355.6 1346.4L1359.2 1351.0L1361.9 1351.9L1364.6 1341.0L1368.3 1319.3L1371.9 1308.4L1374.6 1298.4L1377.3 1295.7L1381.8 1296.6L1385.5 1301.2L1387.8 1319.3L1389.6 1346.4L1391.4 1366.4L1393.6 1370.0L1395.4 1355.5L1398.2 1333.8L1400.9 1319.3L1404.5 1314.7L1409.0 1314.7L1412.6 1319.3L1417.2 1314.7L1422.6 1315.7L1426.2 1319.3L1428.9 1337.4L1431.7 1339.2L1435.3 1335.6L1437.1 1328.3L1440.7 1324.7L1446.2 1319.3L1448.9 1312.0L1452.5 1309.3L1456.1 1312.0L1459.7 1317.5L1464.3 1324.7L1467.9 1324.7L1471.5 1321.1L1475.1 1315.7L1477.9 1311.1L1480.6 1317.5L1484.2 1322.0L1487.8 1326.5L1492.4 1328.3L1495.1 1319.3L1498.7 1308.4L1501.4 1301.2L1505.0 1303.0L1507.8 1315.7L1510.5 1332.0L1513.2 1341.9L1515.9 1346.4L1518.6 1341.0L1522.2 1337.4L1525.0 1324.7L1528.6 1315.7L1533.1 1312.0L1536.7 1304.8L1540.0 1292.1L1542.7 1296.6L1545.4 1303.0L1547.2 1293.9L1549.1 1277.6L1551.8 1269.5L1554.5 1270.4L1557.2 1283.0L1559.0 1301.2L1560.8 1314.7L1563.6 1324.7L1566.3 1332.0L1569.9 1333.8L1574.4 1330.1L1578.0 1332.0L1580.8 1324.7L1584.4 1321.1L1587.1 1310.2L1589.8 1299.3L1592.5 1293.0L1595.3 1301.2L1596.2 1319.3L1597.1 1342.8L1598.9 1357.3L1601.2 1358.2L1604.3 1351.9L1606.1 1337.4L1608.5 1315.7L1610.7 1309.3L1613.4 1310.2L1615.2 1324.7L1617.0 1346.4L1619.7 1356.4L1622.4 1355.5L1624.8 1342.8L1626.6 1324.7L1628.8 1317.5L1632.4 1318.4L1636.9 1320.2L1639.6 1312.0L1641.4 1299.3L1643.3 1286.7L1646.0 1283.9L1648.7 1290.3L1650.5 1304.8L1652.3 1315.7L1655.0 1330.1L1657.8 1339.2L1660.5 1337.4L1661.7 1328.3L1665.9 1328.3L1670.4 1330.1L1674.1 1322.9L1676.8 1319.3L1678.6 1308.4L1681.3 1293.9L1684.0 1287.6L1687.6 1288.5L1690.4 1297.5L1692.2 1310.2L1694.9 1319.3L1697.6 1324.7L1700.3 1330.1L1704.9 1330.1L1709.4 1328.3L1713.9 1322.0L1716.6 1319.3L1719.3 1317.5L1722.1 1321.1L1725.7 1325.6L1730.2 1324.7L1733.8 1323.8L1738.4 1322.0L1742.0 1321.1L1745.6 1317.5L1748.3 1316.6L1752.0 1321.1L1756.5 1318.4L1760.1 1315.7L1762.8 1310.2L1765.5 1313.8L1769.2 1317.5L1773.7 1322.0L1777.3 1318.4L1780.0 1311.1L1783.7 1309.3L1787.3 1312.9L1790.9 1316.6L1794.5 1322.0L1799.1 1323.8L1803.6 1327.4L1806.3 1333.8L1809.0 1340.1L1811.7 1341.9L1815.4 1338.3L1819.9 1332.0L1823.5 1321.1L1826.2 1312.0L1828.9 1295.7L1831.7 1283.9L1834.4 1282.1L1837.1 1283.9L1839.8 1295.7L1842.5 1310.2L1845.3 1319.3L1848.0 1323.8L1851.6 1317.5L1853.4 1308.4L1856.1 1304.8L1859.7 1304.8L1862.5 1312.0L1864.3 1318.4L1868.8 1319.3L1872.4 1321.1L1877.0 1323.8L1881.5 1324.7L1883.3 1330.1L1885.1 1337.4L1887.5 1340.1L1888.7 1324.7L1892.4 1322.0L1896.0 1321.1L1899.6 1322.9L1904.1 1324.7L1908.7 1324.7L1912.3 1321.1L1915.9 1319.3L1919.5 1320.2L1924.1 1322.0L1929.5 1321.1L1934.0 1323.8L1936.7 1326.5L1940.0 1328.3L1941.8 1319.3L1943.6 1292.1L1946.3 1286.7L1949.1 1292.1L1951.8 1302.1L1955.4 1304.8L1958.1 1312.0L1961.7 1312.0L1964.5 1317.5L1968.1 1319.3L1972.6 1320.2L1978.0 1321.1L1980.8 1326.5L1983.5 1331.1L1987.1 1332.0L1990.7 1328.3L1994.3 1322.9L1998.9 1322.0L2002.5 1317.5L2006.1 1314.7L2009.7 1315.7L2013.4 1310.2L2017.0 1313.8L2020.6 1317.5L2023.3 1322.9L2026.1 1328.3L2030.6 1327.4L2035.1 1324.7L2039.6 1326.2L2046.0 1327.4L2050.5 1323.8L2053.2 1315.7L2056.8 1310.2L2060.5 1301.2L2063.2 1295.7L2065.9 1294.8L2068.6 1301.2L2071.3 1310.2L2073.2 1324.7L2075.9 1330.1L2080.4 1333.8L2084.0 1332.9L2088.6 1328.3L2091.3 1319.3L2094.0 1310.2L2096.7 1301.2L2099.4 1294.8L2102.1 1293.9L2103.9 1301.2L2105.8 1312.0L2108.5 1319.3L2110.3 1330.1L2113.9 1333.4L2117.5 1332.0L2120.3 1325.6L2123.0 1323.8L2128.4 1326.5L2133.8 1328.3L2136.6 1326.5L2139.3 1322.0L2143.8 1317.5L2146.5 1317.5L2149.2 1322.9L2153.8 1322.0L2157.4 1315.7L2160.1 1309.3L2163.7 1307.5L2168.3 1310.2L2171.0 1317.5L2174.6 1322.0L2179.1 1322.9L2182.8 1326.5L2186.4 1321.1L2190.0 1319.3L2194.5 1319.3L2198.2 1322.9L2200.9 1333.8L2203.6 1340.1L2206.3 1333.8L2209.0 1326.5L2212.6 1322.9L2215.4 1318.4L2219.9 1318.4L2225.3 1319.3L2229.9 1319.3L2233.5 1314.7L2237.1 1310.2L2240.7 1304.8L2244.3 1308.4L2246.2 1319.3L2248.0 1333.8L2251.6 1336.5L2256.1 1341.0L2259.7 1333.8L2262.5 1328.3L2266.1 1319.3L2269.7 1315.7L2273.3 1310.2L2277.0 1312.0L2280.6 1313.8L2283.3 1319.3L2286.0 1326.5L2289.6 1328.3L2293.3 1325.6L2297.8 1322.0L2302.3 1318.4L2306.8 1317.5L2314.6 1318.4" fill="none" stroke="#00f" stroke-width="8.5" stroke-linejoin="round" stroke-linecap="butt"/>
<path d="M748.6 1349L747.2 1377M748.6 1349L752.6 1390" fill="none" stroke="#000" stroke-width="3.2" stroke-linecap="round" stroke-linejoin="round"/>
<path d="M372.1 1053.8H376.8V1088.8H372.1ZM439.5 1053.8H444.7V1088.8H439.5ZM510.2 1053.8H515.9V1088.8H510.2ZM520.2 1053.8H524.9V1088.8H520.2ZM534.4 1053.8H542.8V1088.8H534.4ZM577.1 1053.8H583.0V1088.8H577.1ZM590.0 1053.8H595.0V1088.8H590.0ZM614.2 1053.8H619.6V1088.8H614.2ZM621.2 1053.8H627.1V1088.8H621.2ZM694.0 1053.8H699.0V1088.8H694.0ZM715.2 1053.8H720.9V1088.8H715.2ZM730.4 1053.8H735.8V1088.8H730.4ZM741.4 1053.8H747.8V1088.8H741.4ZM769.2 1053.8H775.8V1088.8H769.2ZM790.3 1053.8H796.8V1088.8H790.3ZM815.1 1053.8H820.6V1088.8H815.1ZM836.3 1053.8H840.8V1088.8H836.3ZM852.3 1053.8H858.7V1088.8H852.3ZM876.3 1053.8H888.7V1088.8H876.3ZM895.3 1053.8H900.7V1088.8H895.3ZM924.2 1053.8H930.8V1088.8H924.2ZM941.4 1053.8H955.6V1088.8H941.4ZM958.3 1053.8H966.5V1088.8H958.3ZM968.1 1053.8H973.9V1088.8H968.1ZM988.2 1053.8H994.7V1088.8H988.2ZM1007.2 1053.8H1021.9V1088.8H1007.2ZM1042.2 1053.8H1048.8V1088.8H1042.2ZM1058.0 1053.8H1061.0V1088.8H1058.0ZM1062.1 1053.8H1065.7V1088.8H1062.1ZM1074.3 1053.8H1089.9V1088.8H1074.3ZM1102.3 1053.8H1108.7V1088.8H1102.3ZM1111.1 1053.8H1113.9V1088.8H1111.1ZM1115.2 1053.8H1117.7V1088.8H1115.2ZM1120.0 1053.8H1122.9V1088.8H1120.0ZM1124.2 1053.8H1134.6V1088.8H1124.2ZM1136.0 1053.8H1138.7V1088.8H1136.0ZM1149.1 1053.8H1155.7V1088.8H1149.1ZM1198.4 1053.8H1201.1V1088.8H1198.4ZM1202.0 1053.8H1204.7V1088.8H1202.0ZM1208.3 1053.8H1233.0V1088.8H1208.3ZM1257.2 1053.8H1259.9V1088.8H1257.2ZM1261.2 1053.8H1263.7V1088.8H1261.2ZM1271.2 1053.8H1273.9V1088.8H1271.2ZM1275.2 1053.8H1279.8V1088.8H1275.2ZM1281.1 1053.8H1284.7V1088.8H1281.1ZM1293.1 1053.8H1300.8V1088.8H1293.1ZM1317.4 1053.8H1324.9V1088.8H1317.4ZM1326.4 1053.8H1339.8V1088.8H1326.4ZM1353.3 1053.8H1363.7V1088.8H1353.3ZM1369.2 1053.8H1377.8V1088.8H1369.2ZM1382.3 1053.8H1393.8V1088.8H1382.3ZM1395.2 1053.8H1399.9V1088.8H1395.2ZM1402.4 1053.8H1404.7V1088.8H1402.4ZM1421.4 1053.8H1436.8V1088.8H1421.4ZM1450.3 1053.8H1459.6V1088.8H1450.3ZM1464.3 1053.8H1467.7V1088.8H1464.3ZM1469.3 1053.8H1472.9V1088.8H1469.3ZM1474.3 1053.8H1477.9V1088.8H1474.3ZM1479.5 1053.8H1486.7V1088.8H1479.5ZM1500.3 1053.8H1509.3V1088.8H1500.3ZM1510.9 1053.8H1524.0V1088.8H1510.9ZM1526.5 1053.8H1528.8V1088.8H1526.5ZM1543.2 1053.8H1546.8V1088.8H1543.2ZM1548.2 1053.8H1551.8V1088.8H1548.2ZM1568.3 1053.8H1570.8V1088.8H1568.3ZM1573.3 1053.8H1578.7V1088.8H1573.3ZM1580.3 1053.8H1583.0V1088.8H1580.3ZM1590.2 1053.8H1592.9V1088.8H1590.2ZM1596.3 1053.8H1607.6V1088.8H1596.3ZM1609.2 1053.8H1612.8V1088.8H1609.2ZM1614.4 1053.8H1618.0V1088.8H1614.4ZM1619.4 1053.8H1622.8V1088.8H1619.4ZM1628.2 1053.8H1640.9V1088.8H1628.2ZM1643.4 1053.8H1646.7V1088.8H1643.4ZM1648.3 1053.8H1651.7V1088.8H1648.3ZM1656.2 1053.8H1659.9V1088.8H1656.2ZM1662.3 1053.8H1665.5V1088.8H1662.3ZM1667.1 1053.8H1671.8V1088.8H1667.1ZM1673.4 1053.8H1676.8V1088.8H1673.4ZM1684.3 1053.8H1687.7V1088.8H1684.3ZM1688.8 1053.8H1705.1V1088.8H1688.8ZM1706.4 1053.8H1708.7V1088.8H1706.4ZM1714.1 1053.8H1725.9V1088.8H1714.1ZM1734.4 1053.8H1737.8V1088.8H1734.4ZM1740.3 1053.8H1745.8V1088.8H1740.3ZM1748.0 1053.8H1755.7V1088.8H1748.0ZM1758.2 1053.8H1764.7V1088.8H1758.2ZM1767.2 1053.8H1773.6V1088.8H1767.2ZM1775.1 1053.8H1785.1V1088.8H1775.1ZM1802.3 1053.8H1805.3V1088.8H1802.3ZM1806.8 1053.8H1811.9V1088.8H1806.8ZM1813.4 1053.8H1821.8V1088.8H1813.4ZM1823.5 1053.8H1834.7V1088.8H1823.5ZM1838.2 1053.8H1840.8V1088.8H1838.2ZM1852.4 1053.8H1862.8V1088.8H1852.4ZM1864.3 1053.8H1867.8V1088.8H1864.3ZM1871.4 1053.8H1873.7V1088.8H1871.4ZM1885.3 1053.8H1887.8V1088.8H1885.3ZM1889.6 1053.8H1894.7V1088.8H1889.6ZM1903.3 1053.8H1914.9V1088.8H1903.3ZM1927.3 1053.8H1953.7V1088.8H1927.3ZM1955.2 1053.8H1959.5V1088.8H1955.2ZM1961.3 1053.8H1980.8V1088.8H1961.3ZM1982.0 1053.8H1987.1V1088.8H1982.0ZM1989.6 1053.8H1992.7V1088.8H1989.6ZM1995.2 1053.8H2035.7V1088.8H1995.2ZM2054.2 1053.8H2077.5V1088.8H2054.2ZM2079.2 1053.8H2082.5V1088.8H2079.2ZM2086.3 1053.8H2091.9V1088.8H2086.3ZM2093.9 1053.8H2114.7V1088.8H2093.9ZM2123.3 1053.8H2126.3V1088.8H2123.3ZM2130.4 1053.8H2132.9V1088.8H2130.4ZM2141.0 1053.8H2155.4V1088.8H2141.0ZM2157.2 1053.8H2160.5V1088.8H2157.2ZM2163.3 1053.8H2168.1V1088.8H2163.3ZM2169.9 1053.8H2174.9V1088.8H2169.9ZM2176.7 1053.8H2189.4V1088.8H2176.7ZM2193.2 1053.8H2196.5V1088.8H2193.2ZM2197.7 1053.8H2211.6V1088.8H2197.7ZM2218.2 1053.8H2221.8V1088.8H2218.2ZM2224.8 1053.8H2240.0V1088.8H2224.8ZM2241.5 1053.8H2265.6V1088.8H2241.5ZM2269.6 1053.8H2272.4V1088.8H2269.6ZM2278.2 1053.8H2281.8V1088.8H2278.2ZM2285.3 1053.8H2291.4V1088.8H2285.3ZM2292.4 1053.8H2298.5V1088.8H2292.4ZM2299.5 1053.8H2304.6V1088.8H2299.5ZM2305.8 1053.8H2310.6V1088.8H2305.8ZM2312.4 1053.8H2314.9V1088.8H2312.4Z" fill="#ff8000"/>
</g>
<g font-family="'Liberation Serif', serif" font-weight="bold" fill="#000">
<g font-size="90" text-anchor="end">
<text x="322" y="1548.8">-1000</text>
<text x="322" y="1305.2">-500</text>
<text x="322" y="1061.6">0</text>
<text x="322" y="818.0">500</text>
<text x="322" y="574.4">1000</text>
<text x="322" y="330.8">1500</text>
<text x="322" y="87.2">2000</text>
</g>
<g font-size="90" text-anchor="middle">
<text x="350.3" y="1623">20</text>
<text x="514.0" y="1623">25</text>
<text x="677.6" y="1623">30</text>
<text x="841.3" y="1623">35</text>
<text x="1005.0" y="1623">40</text>
<text x="1168.6" y="1623">45</text>
<text x="1332.3" y="1623">50</text>
<text x="1496.0" y="1623">55</text>
<text x="1659.6" y="1623">60</text>
<text x="1823.3" y="1623">65</text>
<text x="1987.0" y="1623">70</text>
<text x="2150.6" y="1623">75</text>
<text x="2314.3" y="1623">80</text>
</g>
<text x="1335" y="1731" font-size="111.6" text-anchor="middle">2θ (Degree)</text>
<text transform="translate(116.5 799) rotate(-90)" font-size="114.5" text-anchor="middle">Intensity</text>
<g font-size="86.5">
<text x="1797" y="159.3">Oberved</text>
<text x="1797" y="268.2">Simulated</text>
<text x="1797" y="377.1">Different</text>
<text x="1797" y="486.0">Braggs peak</text>
</g>
</g>
<circle cx="1696.3" cy="135" r="16" fill="#000"/>
<path d="M1620.3 244.9H1773.5" stroke="#f00" stroke-width="13" stroke-linecap="round" fill="none"/>
<path d="M1619.9 353.4H1773.7" stroke="#00f" stroke-width="7.7" stroke-linecap="round" fill="none"/>
<path d="M1696.3 447.4V479.4" stroke="#ff8000" stroke-width="3.1" stroke-linecap="round" fill="none"/>
</svg>
</body></html>
